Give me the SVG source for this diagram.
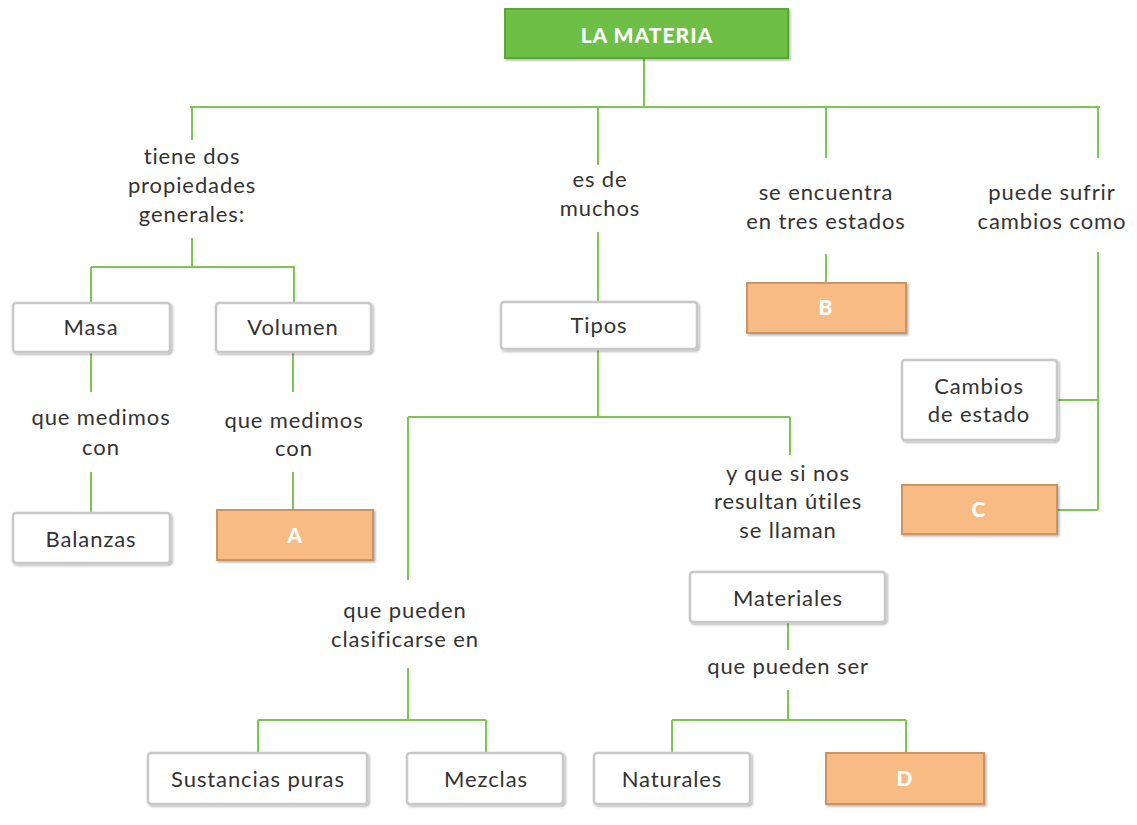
<svg xmlns="http://www.w3.org/2000/svg" width="1137" height="825" viewBox="0 0 1137 825">
<defs>
<filter id="sh" x="-10%" y="-10%" width="125%" height="135%">
<feDropShadow dx="1.5" dy="1.5" stdDeviation="1" flood-color="#000" flood-opacity="0.3"/>
</filter>
</defs>
<style>
.bx{fill:#fff;stroke:#c8c8c8;stroke-width:2.5;filter:url(#sh)}
.or{fill:#f9bb84;stroke:#c99566;stroke-width:2;filter:url(#sh)}
.t{font-family:Lato,"Open Sans",sans-serif;font-size:22px;letter-spacing:0.9px;fill:#333;text-anchor:middle}
.w{font-family:Lato,"Open Sans",sans-serif;font-size:21px;letter-spacing:1px;font-weight:900;fill:#fff;text-anchor:middle}
.ln{fill:none;stroke:#7cc652;stroke-width:2}
</style>
<rect width="1137" height="825" fill="#fff"/>
<g id="connectors">
<path class="ln" d="M644 58V107M190 107H1100M192 107V140M598 107V165M826 107V158M1098 107V158"/>
<path class="ln" d="M192 238V267M91 267H295M91 267V303M294 267V303"/>
<path class="ln" d="M91 352V392M91 472V512M293 352V392M293 472V510"/>
<path class="ln" d="M598 232V302M598 349V417M408 417H790M408 417V580M790 417V455"/>
<path class="ln" d="M408 668V720M258 720H486M258 720V753M486 720V753"/>
<path class="ln" d="M788 622V650M788 690V720M672 720H906M672 720V753M906 720V753"/>
<path class="ln" d="M826 254V284M1098 252V510M1057 400H1098M1057 510H1098"/>
</g>
<g id="n-materia">
<rect x="505" y="9" width="283" height="49" fill="#6dbf45" stroke="#5aa638" stroke-width="2" filter="url(#sh)"/>
<text class="w" x="647" y="43">LA MATERIA</text>
</g>
<g id="l-tiene"><text class="t" x="192" y="164">tiene dos</text><text class="t" x="192" y="193">propiedades</text><text class="t" x="192" y="222">generales:</text></g>
<g id="l-esde"><text class="t" x="600" y="187">es de</text><text class="t" x="600" y="216">muchos</text></g>
<g id="l-seenc"><text class="t" x="826" y="200">se encuentra</text><text class="t" x="826" y="229">en tres estados</text></g>
<g id="l-puede"><text class="t" x="1052" y="200">puede sufrir</text><text class="t" x="1052" y="229">cambios como</text></g>
<g id="n-masa"><rect class="bx" x="13" y="303" width="157" height="49" rx="3"/><text class="t" x="91" y="335">Masa</text></g>
<g id="n-volumen"><rect class="bx" x="216" y="303" width="155" height="49" rx="3"/><text class="t" x="293" y="335">Volumen</text></g>
<g id="l-qm1"><text class="t" x="101" y="425">que medimos</text><text class="t" x="101" y="455">con</text></g>
<g id="l-qm2"><text class="t" x="294" y="428">que medimos</text><text class="t" x="294" y="456">con</text></g>
<g id="n-balanzas"><rect class="bx" x="13" y="513" width="157" height="50" rx="3"/><text class="t" x="91" y="547">Balanzas</text></g>
<g id="n-a"><rect class="or" x="217" y="510" width="156" height="50"/><text class="w" x="295" y="543">A</text></g>
<g id="n-tipos"><rect class="bx" x="501" y="302" width="196" height="47" rx="3"/><text class="t" x="599" y="333">Tipos</text></g>
<g id="n-b"><rect class="or" x="747" y="283" width="159" height="50"/><text class="w" x="826" y="315">B</text></g>
<g id="n-cambios"><rect class="bx" x="902" y="360" width="155" height="80" rx="3"/><text class="t" x="979" y="394">Cambios</text><text class="t" x="979" y="422">de estado</text></g>
<g id="n-c"><rect class="or" x="902" y="485" width="155" height="49"/><text class="w" x="979" y="517">C</text></g>
<g id="l-yque"><text class="t" x="788" y="481">y que si nos</text><text class="t" x="788" y="509">resultan útiles</text><text class="t" x="788" y="538">se llaman</text></g>
<g id="n-materiales"><rect class="bx" x="690" y="572" width="195" height="50" rx="3"/><text class="t" x="788" y="606">Materiales</text></g>
<g id="l-qps"><text class="t" x="788" y="674">que pueden ser</text></g>
<g id="l-qpc"><text class="t" x="405" y="618">que pueden</text><text class="t" x="405" y="647">clasificarse en</text></g>
<g id="n-sustancias"><rect class="bx" x="148" y="753" width="219" height="51" rx="3"/><text class="t" x="258" y="787">Sustancias puras</text></g>
<g id="n-mezclas"><rect class="bx" x="407" y="753" width="156" height="51" rx="3"/><text class="t" x="486" y="787">Mezclas</text></g>
<g id="n-naturales"><rect class="bx" x="594" y="753" width="156" height="51" rx="3"/><text class="t" x="672" y="787">Naturales</text></g>
<g id="n-d"><rect class="or" x="826" y="753" width="158" height="51"/><text class="w" x="905" y="786">D</text></g>
</svg>
